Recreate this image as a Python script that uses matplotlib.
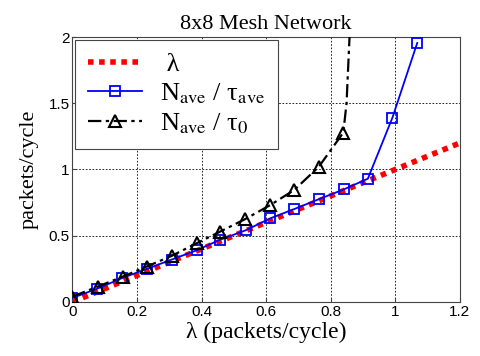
import numpy as np
import matplotlib
matplotlib.use("Agg")
import matplotlib.pyplot as plt

# data
lam_x = [0.0, 1.2]
lam_y = [0.0, 1.2]

ave_x = [0.0, 0.077, 0.154, 0.231, 0.308, 0.385, 0.458, 0.536, 0.612, 0.686, 0.763, 0.841, 0.915, 0.991, 1.068]
ave_y = [0.03, 0.10, 0.18, 0.25, 0.32, 0.39, 0.47, 0.54, 0.63, 0.70, 0.775, 0.85, 0.93, 1.39, 1.955]

t0_x = [0.0, 0.078, 0.155, 0.23, 0.307, 0.385, 0.457, 0.534, 0.612, 0.687, 0.763, 0.839, 0.849, 0.875]
t0_y = [0.04, 0.115, 0.19, 0.267, 0.347, 0.443, 0.53, 0.624, 0.73, 0.845, 1.02, 1.278, 1.5, 2.9]
t0_marked = list(range(12))

plt.rcParams['font.family'] = ['Liberation Serif', 'DejaVu Serif']
plt.rcParams['mathtext.fontset'] = 'stix'

fig = plt.figure(figsize=(4.8, 3.56), dpi=100)
ax = fig.add_axes([0.151, 0.152, 0.807, 0.744])

ax.plot(lam_x, lam_y, color='red', linestyle=(0, (1, 1)), linewidth=4, label=' λ', zorder=2)
ax.plot(ave_x, ave_y, color='blue', linewidth=1.3, marker='s', markersize=7,
        markerfacecolor='none', markeredgewidth=1.3, label=r'N$_{\rm ave}$ / τ$_{\rm ave}$', zorder=3)
ax.plot(t0_x, t0_y, color='black', linestyle=(0, (6, 2, 1.5, 2)), linewidth=1.6, marker='^',
        markersize=8, markerfacecolor='none', markeredgewidth=1.5, markevery=t0_marked,
        label=r'N$_{\rm ave}$ / τ$_0$', zorder=4)

ax.set_xlim(0, 1.2)
ax.set_ylim(0, 2)
ax.set_xticks([0, 0.2, 0.4, 0.6, 0.8, 1.0, 1.2])
ax.set_xticklabels(['0', '0.2', '0.4', '0.6', '0.8', '1', '1.2'])
ax.set_yticks([0, 0.5, 1, 1.5, 2])
ax.set_yticklabels(['0', '0.5', '1', '1.5', '2'])
for lbl in ax.get_xticklabels() + ax.get_yticklabels():
    lbl.set_family(['Liberation Sans', 'DejaVu Sans'])
    lbl.set_fontsize(11)
ax.tick_params(direction='in', length=3, color='#444444', pad=2)
ax.grid(True, color='black', linestyle=(0, (2, 2)), linewidth=0.6)
for s in ax.spines.values():
    s.set_color('#444444')

ax.set_title('8x8 Mesh Network', fontsize=16, pad=6)
ax.set_xlabel('λ (packets/cycle)', fontsize=17, labelpad=2)
ax.set_ylabel('packets/cycle', fontsize=16, labelpad=7)

leg = ax.legend(loc='upper left', fontsize=19, fancybox=False, framealpha=1,
                edgecolor='#444444', borderaxespad=0.1, handlelength=2.05,
                handletextpad=0.65, labelspacing=0.2, borderpad=0.5)
leg.get_frame().set_linewidth(0.8)

fig.savefig('out.png', dpi=100)
